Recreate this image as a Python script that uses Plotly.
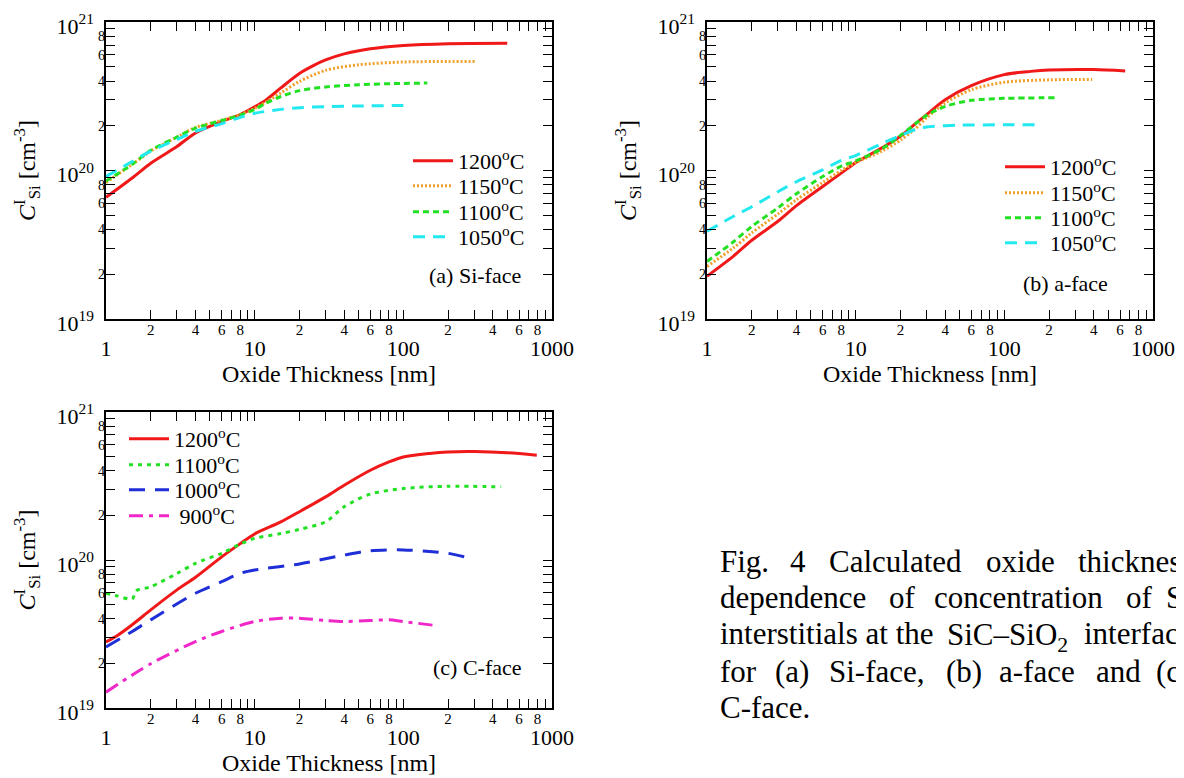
import plotly.graph_objects as go

W, H = 1184, 778          # browser window
OFF = 8                   # default page body margin
FW, FH = W - OFF, H - OFF # figure size so it fits the window exactly
FONT = "Liberation Serif"

# ---------------- data ----------------
# (a) Si-face
a_1200_x = [1, 1.5, 2, 3, 4, 6, 8, 10, 12, 15, 20, 25, 30, 40, 60, 100, 200, 500]
a_1200_y = [6.6e19, 8.9e19, 1.12e20, 1.45e20, 1.79e20, 2.14e20, 2.38e20, 2.68e20, 3.0e20, 3.6e20,
            4.5e20, 5.1e20, 5.55e20, 6.1e20, 6.6e20, 6.95e20, 7.15e20, 7.2e20]
a_1150_x = [1, 1.5, 2, 3, 4, 6, 8, 10, 12, 15, 20, 30, 50, 100, 200, 310]
a_1150_y = [8.3e19, 1.1e20, 1.35e20, 1.68e20, 1.95e20, 2.18e20, 2.38e20, 2.62e20, 2.9e20, 3.33e20,
            3.98e20, 4.73e20, 5.15e20, 5.38e20, 5.42e20, 5.42e20]
a_1100_x = [1, 1.5, 2, 3, 4, 6, 8, 10, 12, 15, 20, 30, 50, 100, 145]
a_1100_y = [8.5e19, 1.1e20, 1.37e20, 1.68e20, 1.93e20, 2.17e20, 2.36e20, 2.58e20, 2.85e20, 3.15e20,
            3.45e20, 3.65e20, 3.78e20, 3.86e20, 3.88e20]
a_1050_x = [1, 1.5, 2, 3, 4, 6, 8, 10, 15, 20, 30, 50, 100]
a_1050_y = [9.1e19, 1.15e20, 1.35e20, 1.62e20, 1.83e20, 2.07e20, 2.28e20, 2.43e20, 2.58e20, 2.65e20,
            2.69e20, 2.72e20, 2.74e20]

# (b) a-face
b_1200_x = [1, 1.5, 2, 3, 4, 6, 8, 10, 12, 15, 20, 25, 30, 40, 60, 100, 150, 200, 400, 650]
b_1200_y = [1.94e19, 2.64e19, 3.39e19, 4.55e19, 5.8e19, 7.8e19, 9.6e19, 1.13e20, 1.25e20, 1.42e20,
            1.70e20, 2.05e20, 2.38e20, 3.0e20, 3.73e20, 4.42e20, 4.65e20, 4.75e20, 4.78e20, 4.68e20]
b_1150_x = [1, 1.5, 2, 3, 4, 6, 8, 10, 15, 20, 25, 30, 40, 60, 100, 200, 390]
b_1150_y = [2.26e19, 3.0e19, 3.8e19, 5.1e19, 6.36e19, 8.3e19, 1.0e20, 1.13e20, 1.35e20, 1.6e20,
            1.9e20, 2.26e20, 2.85e20, 3.5e20, 3.93e20, 4.08e20, 4.1e20]
b_1100_x = [1, 1.5, 2, 3, 4, 6, 8, 10, 15, 20, 25, 30, 40, 60, 100, 230]
b_1100_y = [2.44e19, 3.3e19, 4.2e19, 5.6e19, 6.98e19, 9.1e19, 1.07e20, 1.16e20, 1.4e20, 1.72e20,
            2.05e20, 2.35e20, 2.7e20, 2.97e20, 3.06e20, 3.09e20]
b_1050_x = [1, 1.5, 2, 3, 4, 6, 8, 10, 15, 20, 25, 30, 50, 100, 178]
b_1050_y = [3.9e19, 4.9e19, 5.7e19, 7.2e19, 8.4e19, 1.01e20, 1.17e20, 1.26e20, 1.52e20, 1.72e20,
            1.88e20, 1.96e20, 2.02e20, 2.03e20, 2.03e20]

# (c) C-face
c_1200_x = [1, 1.2, 1.5, 2, 3, 4, 6, 8, 10, 15, 20, 30, 40, 60, 80, 100, 150, 200, 300, 500, 790]
c_1200_y = [2.79e19, 3.1e19, 3.65e19, 4.6e19, 6.28e19, 7.64e19, 1.05e20, 1.29e20, 1.5e20, 1.81e20,
            2.12e20, 2.67e20, 3.2e20, 4.04e20, 4.6e20, 4.97e20, 5.25e20, 5.37e20, 5.4e20, 5.3e20, 5.1e20]
c_1100_x = [1, 1.2, 1.5, 1.6, 2, 3, 4, 6, 8, 10, 15, 20, 30, 40, 60, 100, 200, 455]
c_1100_y = [5.96e19, 5.7e19, 5.45e19, 6.2e19, 6.6e19, 8.1e19, 9.5e19, 1.11e20, 1.28e20, 1.4e20,
            1.51e20, 1.61e20, 1.81e20, 2.29e20, 2.79e20, 3.04e20, 3.15e20, 3.12e20]
c_1000_x = [1, 1.5, 2, 4, 6, 8, 10, 20, 40, 60, 100, 150, 200, 295]
c_1000_y = [2.58e19, 3.29e19, 3.94e19, 5.96e19, 7.14e19, 8.13e19, 8.56e19, 9.4e19, 1.08e20,
            1.155e20, 1.17e20, 1.14e20, 1.11e20, 1.016e20]
c_900_x = [1, 2, 4, 6, 10, 15, 20, 30, 40, 60, 80, 100, 157]
c_900_y = [1.28e19, 1.99e19, 2.81e19, 3.29e19, 3.84e19, 4.04e19, 4.04e19, 3.9e19, 3.84e19,
           3.9e19, 3.94e19, 3.84e19, 3.63e19]

x_major_vals = [1, 10, 100, 1000]
x_major_text = ["1", "10", "100", "1000"]
x_minor_vals = [m * d for d in (1, 10, 100) for m in range(2, 10)]
x_minor_lab_vals = [m * d for d in (1, 10, 100) for m in (2, 4, 6, 8)]
x_minor_lab_text = ["2", "4", "6", "8"] * 3
y_major_vals = [1e19, 1e20, 1e21]
y_major_text = ["10<sup>19</sup>", "10<sup>20</sup>", "10<sup>21</sup>"]
y_minor_vals = [m * d for d in (1e19, 1e20) for m in range(2, 10)]
y_minor_lab_vals = [m * d for d in (1e19, 1e20) for m in (2, 4, 6, 8)]
y_minor_lab_text = ["2", "4", "6", "8"] * 2

panel_labels = ["(a) Si-face", "(b) a-face", "(c) C-face"]
x_title = "Oxide Thickness [nm]"
y_title = "<i>C</i><sup>I</sup><sub>Si</sub> [cm<sup>-3</sup>]"

# caption words: (text, left px, vertical nudge px)
caption_words = [
    [("Fig.", 718, 0), ("4", 788, 0), ("Calculated", 827, 0), ("oxide", 984, 0), ("thickness", 1076, 0)],
    [("dependence", 718, 0), ("of", 887, 0), ("concentration", 932, 0), ("of", 1124, 0), ("Si", 1164, 0)],
    [("interstitials at the", 718, 0), ("SiC–SiO<sub>2</sub>", 945, 4), ("interface", 1082, 0)],
    [("for", 718, 0), ("(a)", 773, 0), ("Si-face,", 827, 0), ("(b)", 944, 0), ("a-face", 997, 0),
     ("and", 1094, 0), ("(c)", 1154, 0)],
    [("C-face.", 718, 0)],
]
caption_line_y = [561, 597, 633, 671, 707]

# ---------------- styles ----------------
RED, ORANGE, GREEN, CYAN, BLUE, MAGENTA = "#f01818", "#f0a028", "#22e022", "#22e8f0", "#1f2fd8", "#f028c8"


def px_x(p):
    return (p - OFF) / FW


def px_y(p):
    return 1 - (p - OFF) / FH


# panel geometry (window px)
panels = {
    1: dict(x0=106, x1=552, y0=22, y1=319),
    2: dict(x0=707, x1=1153, y0=22, y1=319),
    3: dict(x0=106, x1=552, y0=412, y1=708),
}

series = [
    # panel, x, y, name, color, dash, width, legend line start px, row y px
    (1, a_1200_x, a_1200_y, "1200<sup>o</sup>C", RED, "solid", 3, 413, 161),
    (1, a_1150_x, a_1150_y, "1150<sup>o</sup>C", ORANGE, "2px,2px", 3, 413, 186),
    (1, a_1100_x, a_1100_y, "1100<sup>o</sup>C", GREEN, "6px,4px", 3, 413, 212),
    (1, a_1050_x, a_1050_y, "1050<sup>o</sup>C", CYAN, "12px,8px", 3, 413, 237),
    (2, b_1200_x, b_1200_y, "1200<sup>o</sup>C", RED, "solid", 3, 1005, 167),
    (2, b_1150_x, b_1150_y, "1150<sup>o</sup>C", ORANGE, "2px,2px", 3, 1005, 193),
    (2, b_1100_x, b_1100_y, "1100<sup>o</sup>C", GREEN, "6px,4px", 3, 1005, 218),
    (2, b_1050_x, b_1050_y, "1050<sup>o</sup>C", CYAN, "12px,8px", 3, 1005, 243),
    (3, c_1200_x, c_1200_y, "1200<sup>o</sup>C", RED, "solid", 3, 129, 439),
    (3, c_1100_x, c_1100_y, "1100<sup>o</sup>C", GREEN, "4px,5px", 3, 129, 465),
    (3, c_1000_x, c_1000_y, "1000<sup>o</sup>C", BLUE, "16px,10px", 3, 129, 490),
    (3, c_900_x, c_900_y, " 900<sup>o</sup>C", MAGENTA, "14px,6px,4px,6px", 3, 129, 516),
]

fig = go.Figure()
layout = dict(
    template="none",
    width=FW, height=FH,
    margin=dict(l=0, r=0, t=0, b=0, pad=0, autoexpand=False),
    paper_bgcolor="white", plot_bgcolor="white",
    font=dict(family=FONT, color="black", size=20),
    annotations=[],
)

for i, (p, xs, ys, name, col, dash, lw, lx, ly) in enumerate(series):
    lg = "legend" if i == 0 else f"legend{i + 1}"
    fig.add_trace(go.Scatter(
        x=xs, y=ys, name=name, mode="lines",
        line=dict(color=col, dash=dash, width=lw, shape="spline", smoothing=0.8),
        xaxis="x" if p == 1 else f"x{p}", yaxis="y" if p == 1 else f"y{p}",
        legend=lg, showlegend=True,
    ))
    layout[lg] = dict(
        x=px_x(lx - 5), y=px_y(ly), xanchor="left", yanchor="middle",
        bgcolor="rgba(0,0,0,0)", borderwidth=0,
        font=dict(family=FONT, size=22, color="black"),
        itemwidth=40, tracegroupgap=0,
    )

for p, g in panels.items():
    sx = "" if p == 1 else str(p)
    ox = str(p + 3)
    xdom = [px_x(g["x0"]), px_x(g["x1"])]
    ydom = [px_y(g["y1"]), px_y(g["y0"])]
    layout[f"xaxis{sx}"] = dict(
        type="log", range=[0, 3], domain=xdom, anchor=f"y{sx}", automargin=False,
        showline=True, linecolor="black", linewidth=1.5, mirror="allticks",
        ticks="inside", ticklen=9, tickwidth=1, tickcolor="black",
        tickvals=x_major_vals, ticktext=x_major_text, ticklabeloverflow="allow",
        tickfont=dict(family=FONT, size=22, color="black"), ticklabelstandoff=9,
        minor=dict(tickvals=x_minor_vals, ticks="inside", ticklen=5, tickwidth=1, tickcolor="black"),
        showgrid=False, zeroline=False,
        title=dict(text=x_title, font=dict(family=FONT, size=24, color="black"), standoff=4),
    )
    layout[f"yaxis{sx}"] = dict(
        type="log", range=[19, 21], domain=ydom, anchor=f"x{sx}", automargin=False,
        showline=True, linecolor="black", linewidth=1.5, mirror="allticks",
        ticks="inside", ticklen=9, tickwidth=1, tickcolor="black",
        tickvals=y_major_vals, ticktext=y_major_text, ticklabeloverflow="allow",
        tickfont=dict(family=FONT, size=22, color="black"), ticklabelstandoff=6, ticklabelshift=4,
        minor=dict(tickvals=y_minor_vals, ticks="inside", ticklen=5, tickwidth=1, tickcolor="black"),
        showgrid=False, zeroline=False,
        title=dict(text=y_title, font=dict(family=FONT, size=24, color="black"), standoff=14),
    )
    layout[f"xaxis{ox}"] = dict(
        type="log", range=[0, 3], overlaying=f"x{sx}", anchor=f"y{sx}", side="bottom",
        automargin=False, showline=False, ticks="", tickvals=x_minor_lab_vals, ticktext=x_minor_lab_text,
        ticklabeloverflow="allow",
        tickfont=dict(family=FONT, size=15, color="black"), showgrid=False, zeroline=False,
    )
    layout[f"yaxis{ox}"] = dict(
        type="log", range=[19, 21], overlaying=f"y{sx}", anchor=f"x{sx}", side="left",
        automargin=False, showline=False, ticks="", tickvals=y_minor_lab_vals, ticktext=y_minor_lab_text,
        ticklabeloverflow="allow",
        tickfont=dict(family=FONT, size=14, color="black"), showgrid=False, zeroline=False,
    )
    # empty traces so the overlay label axes get drawn
    fig.add_trace(go.Scatter(x=[], y=[], xaxis=f"x{ox}", yaxis=f"y{sx}", showlegend=False, hoverinfo="skip"))
    fig.add_trace(go.Scatter(x=[], y=[], xaxis=f"x{sx}", yaxis=f"y{ox}", showlegend=False, hoverinfo="skip"))

# panel labels
label_pos = [(427, 275), (1021, 283), (431, 667)]
for txt, (lx, ly) in zip(panel_labels, label_pos):
    layout["annotations"].append(dict(
        text=txt, x=px_x(lx), y=px_y(ly), xref="paper", yref="paper",
        xanchor="left", yanchor="middle", showarrow=False,
        font=dict(family=FONT, size=22, color="black"),
    ))

# caption
for words, ly in zip(caption_words, caption_line_y):
    for w, wx, dy in words:
        layout["annotations"].append(dict(
            text=w, x=px_x(wx), y=px_y(ly + dy), xref="paper", yref="paper",
            xanchor="left", yanchor="middle", showarrow=False,
            font=dict(family=FONT, size=31, color="black"),
        ))

fig.update_layout(**layout)
fig.write_html("out.html")
